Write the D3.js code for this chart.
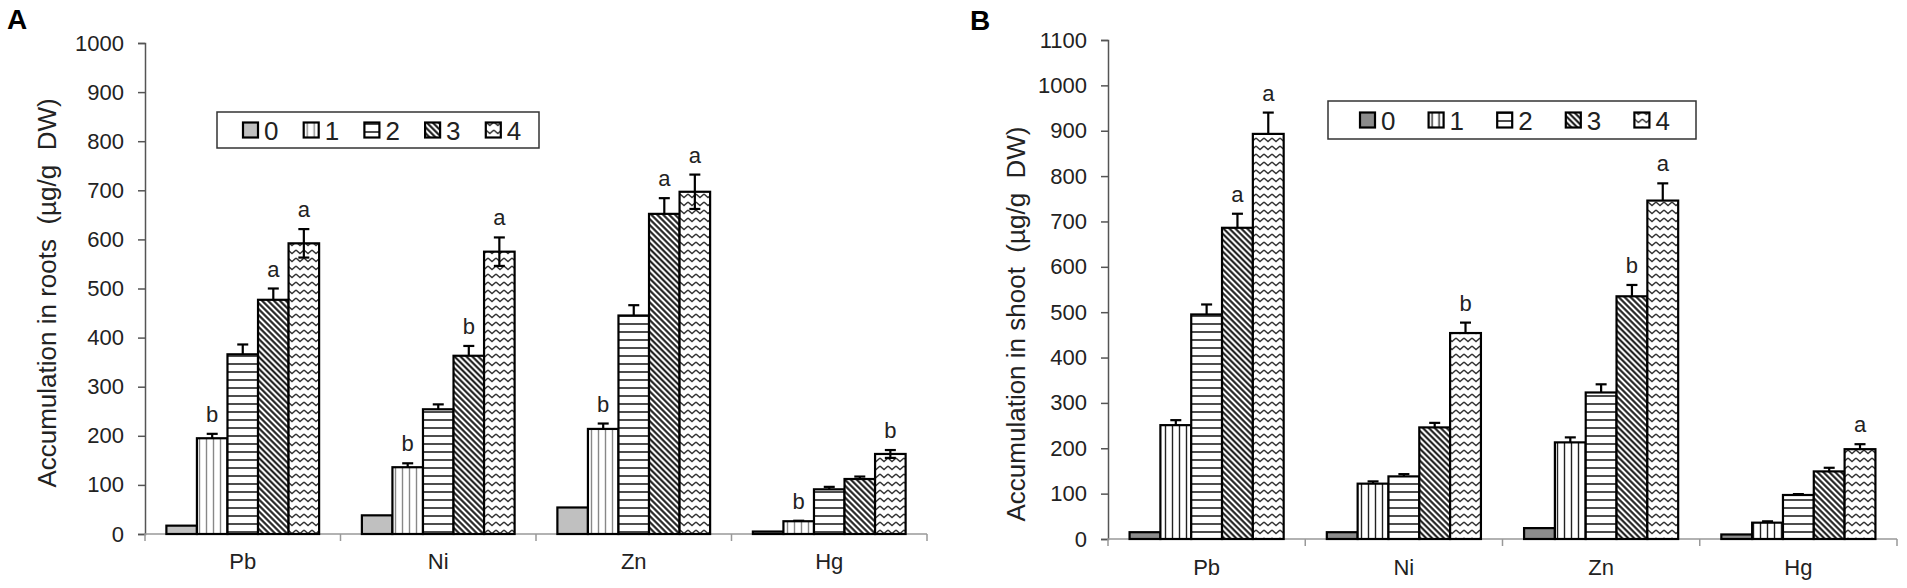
<!DOCTYPE html>
<html>
<head>
<meta charset="utf-8">
<script src="https://cdn.jsdelivr.net/npm/d3@7"></script>
<style>
  body { margin: 0; background: #fff; }
  text { font-family: Arial, "Liberation Sans", sans-serif; }
</style>
</head>
<body>
<script>
// categories and series
var metals = ["Pb", "Ni", "Zn", "Hg"];
var doses = ["0", "1", "2", "3", "4"];

// A: accumulation in roots (rows = metals, cols = doses)
var rootsMean = [
    [17, 195, 366, 477, 592],
    [38, 136, 254, 363, 575],
    [54, 214, 445, 652, 697],
    [5, 26, 91, 112, 163]
];
var rootsErr = [
    [0, 9, 20, 23, 29],
    [0, 8, 10, 20, 29],
    [0, 11, 21, 32, 35],
    [0, 1, 5, 5, 8]
];
var rootsLetters = [
    ["Pb", "1", "b"], ["Pb", "3", "a"], ["Pb", "4", "a"],
    ["Ni", "1", "b"], ["Ni", "3", "b"], ["Ni", "4", "a"],
    ["Zn", "1", "b"], ["Zn", "3", "a"], ["Zn", "4", "a"],
    ["Hg", "1", "b"], ["Hg", "4", "b"]
];
var rootsTicks = d3.range(0, 1001, 100);

// B: accumulation in shoot
var shootMean = [
    [15, 251, 495, 686, 893],
    [15, 122, 138, 246, 454],
    [24, 213, 323, 535, 746],
    [10, 36, 97, 149, 198]
];
var shootErr = [
    [0, 11, 22, 31, 47],
    [0, 5, 5, 10, 23],
    [0, 11, 18, 25, 38],
    [0, 3, 2, 8, 11]
];
var shootLetters = [
    ["Pb", "3", "a"], ["Pb", "4", "a"],
    ["Ni", "4", "b"],
    ["Zn", "3", "b"], ["Zn", "4", "a"],
    ["Hg", "4", "a"]
];
var shootTicks = d3.range(0, 1101, 100);

var svg = d3.select("body").append("svg")
    .attr("width", 1907)
    .attr("height", 588);

var defs = svg.append("defs");

// hatch patterns, one set per panel (line colours differ a little)
function makePatterns(id, stripeColor) {
    var p1 = defs.append("pattern").attr("id", id + "p1")
        .attr("patternUnits", "userSpaceOnUse").attr("width", 7).attr("height", 10);
    p1.append("rect").attr("width", 7).attr("height", 10).attr("fill", "#fff");
    p1.append("line").attr("x1", 3.5).attr("x2", 3.5).attr("y1", 0).attr("y2", 10)
        .attr("stroke", stripeColor).attr("stroke-width", 1.4);

    var p2 = defs.append("pattern").attr("id", id + "p2")
        .attr("patternUnits", "userSpaceOnUse").attr("width", 10).attr("height", 8);
    p2.append("rect").attr("width", 10).attr("height", 8).attr("fill", "#fff");
    p2.append("line").attr("x1", 0).attr("x2", 10).attr("y1", 4).attr("y2", 4)
        .attr("stroke", "#111").attr("stroke-width", 1.5);

    var p3 = defs.append("pattern").attr("id", id + "p3")
        .attr("patternUnits", "userSpaceOnUse").attr("width", 4.2).attr("height", 10)
        .attr("patternTransform", "rotate(-45)");
    p3.append("rect").attr("width", 4.2).attr("height", 10).attr("fill", "#fff");
    p3.append("line").attr("x1", 2.1).attr("x2", 2.1).attr("y1", 0).attr("y2", 10)
        .attr("stroke", "#111").attr("stroke-width", 2);

    var p4 = defs.append("pattern").attr("id", id + "p4")
        .attr("patternUnits", "userSpaceOnUse").attr("width", 8).attr("height", 8);
    p4.append("rect").attr("width", 8).attr("height", 8).attr("fill", "#fff");
    p4.append("path").attr("d", "M0,2 L4,5.5 L8,2")
        .attr("fill", "none").attr("stroke", "#333").attr("stroke-width", 1.4);
}
makePatterns("A", "#888");
makePatterns("B", "#222");

function drawPanel(p) {
    var x0 = d3.scaleBand().domain(metals).range([p.left, p.right]).padding(0);
    var x1 = d3.scaleBand().domain(doses).range([0, x0.bandwidth()])
        .paddingInner(0).paddingOuter(0.7);
    var y = d3.scaleLinear().domain([0, p.yMax]).range([p.bottom, p.top]);

    var fill = function (d) {
        return d === "0" ? p.gray : "url(#" + p.id + "p" + d + ")";
    };

    var g = svg.append("g");

    // panel letter
    g.append("text")
        .attr("x", p.tagX).attr("y", p.tagY)
        .attr("font-size", 28).attr("font-weight", "bold")
        .text(p.id);

    // Y axis
    var yAxis = g.append("g")
        .attr("transform", "translate(" + p.left + ",0)")
        .call(d3.axisLeft(y).tickValues(p.ticks).tickSize(7).tickSizeOuter(7)
            .tickPadding(14).tickFormat(d3.format("d")))
        .attr("font-family", "Arial, 'Liberation Sans', sans-serif")
        .attr("font-size", 22);
    yAxis.select(".domain").attr("stroke", "#555").attr("stroke-width", 1.5);
    yAxis.selectAll(".tick line").attr("stroke", "#555").attr("stroke-width", 1.5);
    yAxis.selectAll(".tick text").attr("fill", "#222");

    // axis title
    g.append("text")
        .attr("transform", "translate(" + p.titleX + "," + p.titleY + ") rotate(-90)")
        .attr("text-anchor", "middle")
        .attr("font-size", 26)
        .attr("fill", "#222")
        .style("white-space", "pre")
        .text(p.title);

    // X axis: line, boundary ticks, category labels
    g.append("line")
        .attr("x1", p.left).attr("x2", p.right)
        .attr("y1", p.bottom).attr("y2", p.bottom)
        .attr("stroke", "#999").attr("stroke-width", 1.5);
    g.selectAll(".bound")
        .data(metals.map(function (m) { return x0(m); }).concat([p.right]))
        .enter().append("line")
        .attr("x1", function (d) { return d; }).attr("x2", function (d) { return d; })
        .attr("y1", p.bottom).attr("y2", p.bottom + 7)
        .attr("stroke", "#999").attr("stroke-width", 1.5);
    var xAxis = g.append("g")
        .attr("transform", "translate(0," + p.bottom + ")")
        .call(d3.axisBottom(x0).tickSize(0).tickPadding(p.labelPad))
        .attr("font-family", "Arial, 'Liberation Sans', sans-serif")
        .attr("font-size", 22);
    xAxis.select(".domain").remove();
    xAxis.selectAll("text").attr("fill", "#222");

    // bars
    var rows = [];
    metals.forEach(function (m, i) {
        doses.forEach(function (d, j) {
            rows.push({ m: m, d: d, v: p.mean[i][j], e: p.err[i][j] });
        });
    });

    g.selectAll(".bar")
        .data(rows)
        .enter().append("rect")
        .attr("x", function (r) { return x0(r.m) + x1(r.d); })
        .attr("y", function (r) { return y(r.v); })
        .attr("width", x1.bandwidth())
        .attr("height", function (r) { return p.bottom - y(r.v); })
        .attr("fill", function (r) { return fill(r.d); })
        .attr("stroke", "#000")
        .attr("stroke-width", 2.2);

    // error bars
    var withErr = rows.filter(function (r) { return r.e > 0; });
    var eg = g.selectAll(".err").data(withErr).enter().append("g")
        .attr("stroke", "#000").attr("stroke-width", 2.2);
    var cx = function (r) { return x0(r.m) + x1(r.d) + x1.bandwidth() / 2; };
    eg.append("line")
        .attr("x1", cx).attr("x2", cx)
        .attr("y1", function (r) { return p.both.indexOf(r.d) >= 0 ? y(r.v - r.e) : y(r.v); })
        .attr("y2", function (r) { return y(r.v + r.e); });
    eg.append("line")
        .attr("x1", function (r) { return cx(r) - 5.5; })
        .attr("x2", function (r) { return cx(r) + 5.5; })
        .attr("y1", function (r) { return y(r.v + r.e); })
        .attr("y2", function (r) { return y(r.v + r.e); });
    eg.filter(function (r) { return p.both.indexOf(r.d) >= 0; }).append("line")
        .attr("x1", function (r) { return cx(r) - 5.5; })
        .attr("x2", function (r) { return cx(r) + 5.5; })
        .attr("y1", function (r) { return y(r.v - r.e); })
        .attr("y2", function (r) { return y(r.v - r.e); });

    // significance letters
    g.selectAll(".sig")
        .data(p.letters)
        .enter().append("text")
        .attr("x", function (l) { return x0(l[0]) + x1(l[1]) + x1.bandwidth() / 2; })
        .attr("y", function (l) {
            var i = metals.indexOf(l[0]), j = doses.indexOf(l[1]);
            return y(p.mean[i][j] + p.err[i][j]) - 12;
        })
        .attr("text-anchor", "middle")
        .attr("font-size", 22)
        .attr("fill", "#222")
        .text(function (l) { return l[2]; });

    // legend
    var lg = g.append("g").attr("transform", "translate(" + p.legX + "," + p.legY + ")");
    lg.append("rect")
        .attr("width", p.legW).attr("height", p.legH)
        .attr("fill", "#fff").attr("stroke", "#333").attr("stroke-width", 1.5);
    var item = lg.selectAll(".item").data(doses).enter().append("g")
        .attr("transform", function (d, i) {
            return "translate(" + (p.legPad + i * p.legStep) + ",0)";
        });
    item.append("rect")
        .attr("y", p.legH / 2 - 7.5)
        .attr("width", 15).attr("height", 15)
        .attr("fill", fill)
        .attr("stroke", "#000").attr("stroke-width", 2.2);
    item.append("text")
        .attr("x", 21).attr("y", p.legH / 2 + 9.5)
        .attr("font-size", 26)
        .attr("fill", "#222")
        .text(function (d) { return d; });
}

drawPanel({
    id: "A", mean: rootsMean, err: rootsErr, letters: rootsLetters, ticks: rootsTicks,
    yMax: 1000, left: 145, right: 927, top: 43, bottom: 534,
    gray: "#c0c0c0", both: ["4"], labelPad: 19,
    title: "Accumulation in roots  (µg/g  DW)", titleX: 56, titleY: 293,
    tagX: 7, tagY: 29,
    legX: 217, legY: 112, legW: 322, legH: 36, legPad: 26, legStep: 60.7
});

drawPanel({
    id: "B", mean: shootMean, err: shootErr, letters: shootLetters, ticks: shootTicks,
    yMax: 1100, left: 1108, right: 1897, top: 40, bottom: 539,
    gray: "#8c8c8c", both: [], labelPad: 20,
    title: "Accumulation in shoot  (µg/g  DW)", titleX: 1025, titleY: 324,
    tagX: 970, tagY: 30,
    legX: 1328, legY: 101, legW: 368, legH: 38, legPad: 32, legStep: 68.6
});
</script>
</body>
</html>
